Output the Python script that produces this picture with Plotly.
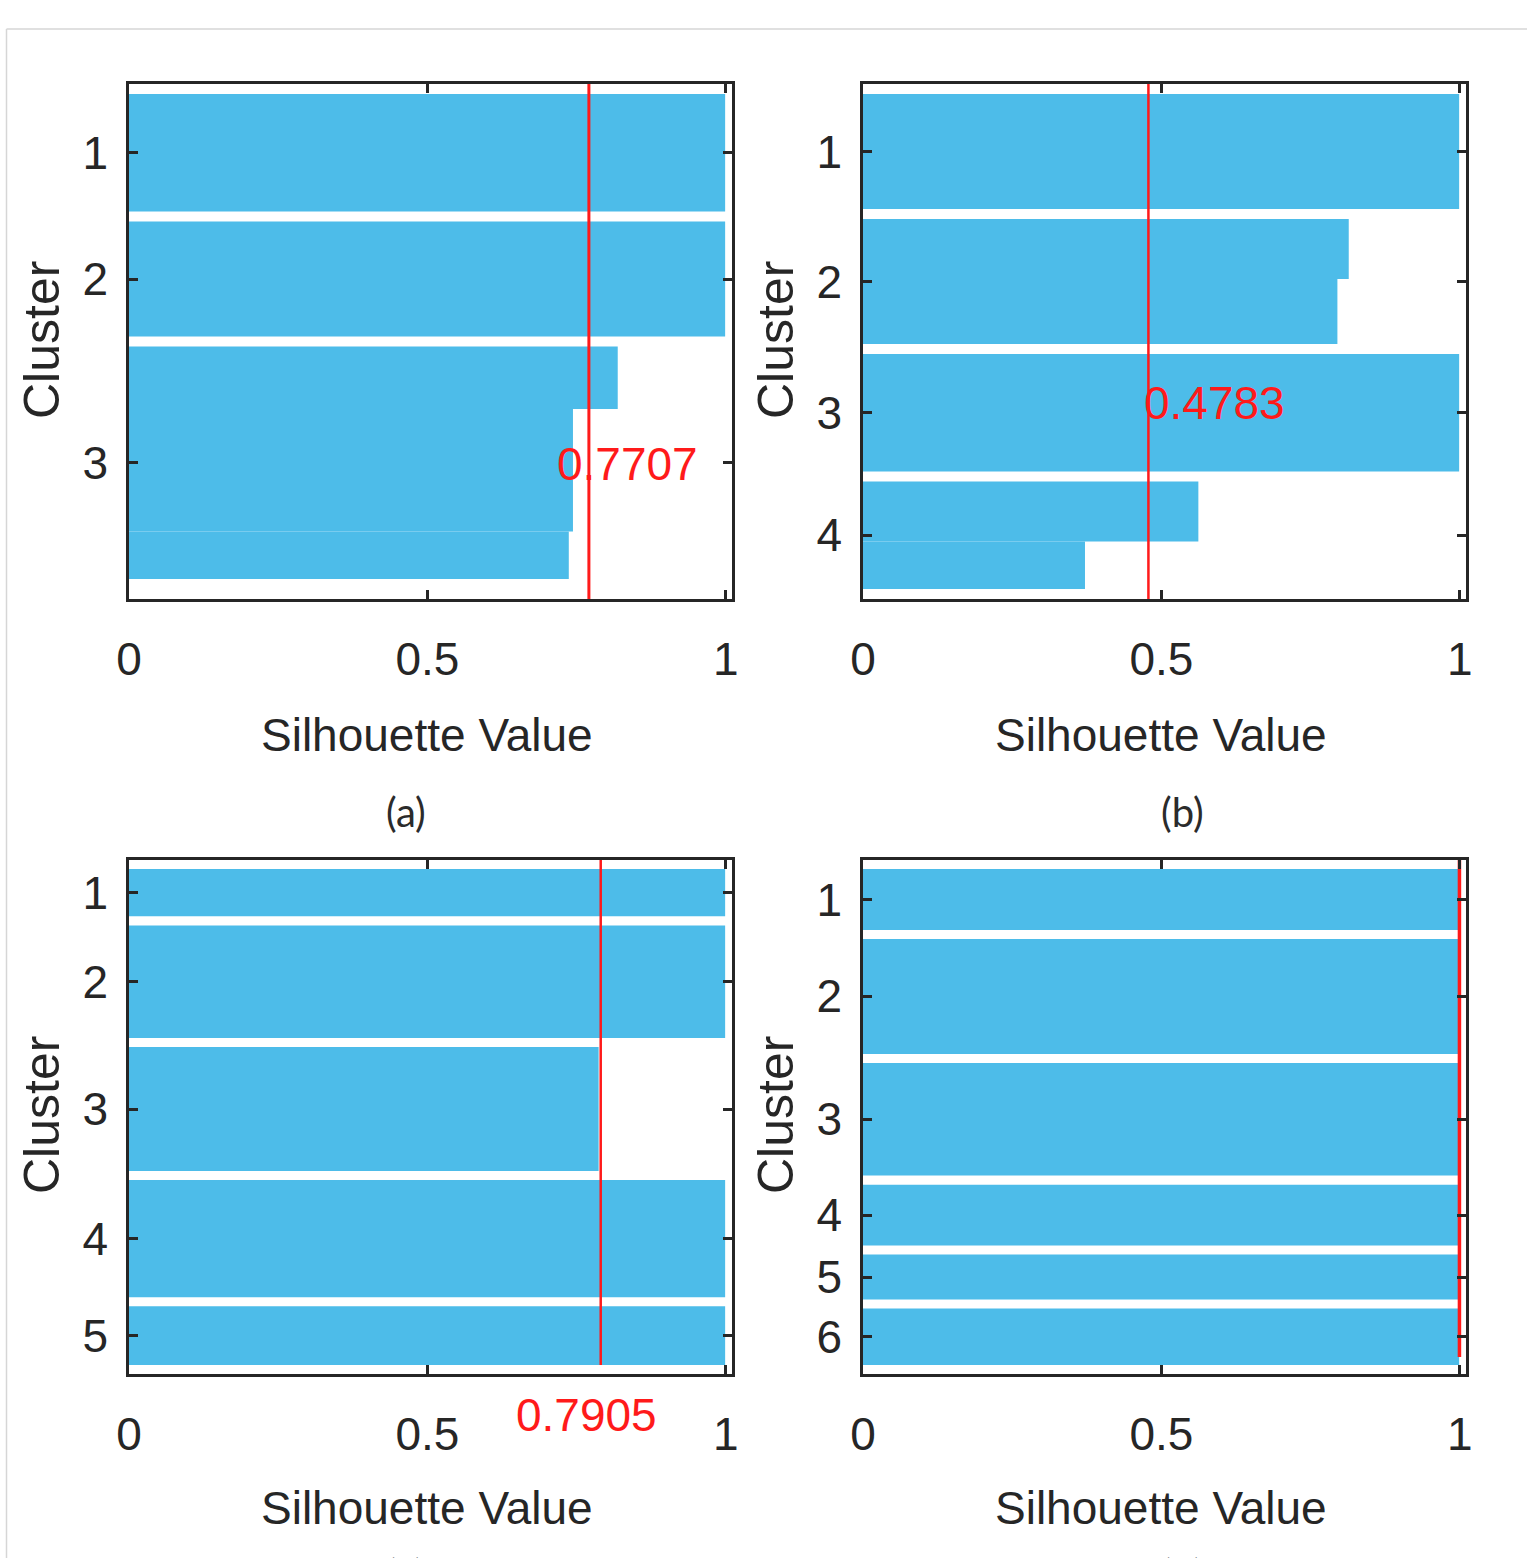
import plotly.graph_objects as go

W, H = 1527, 1558

# ---------------- data ----------------
# each segment = run of samples (count) in a cluster sharing a silhouette value
a_clusters = [1, 2, 3, 3, 3]
a_counts = [47, 46, 25, 49, 19]
a_values = [0.999, 0.999, 0.819, 0.744, 0.737]
a_mean = 0.7707
a_ticktext = ["1", "2", "3"]

b_clusters = [1, 2, 2, 3, 4, 4]
b_counts = [46, 24, 26, 47, 24, 19]
b_values = [0.999, 0.814, 0.795, 0.999, 0.562, 0.372]
b_mean = 0.4783
b_ticktext = ["1", "2", "3", "4"]

c_clusters = [1, 2, 3, 4, 5]
c_counts = [21, 50, 55, 52, 26]
c_values = [0.999, 0.999, 0.787, 0.999, 0.999]
c_mean = 0.7905
c_ticktext = ["1", "2", "3", "4", "5"]

d_clusters = [1, 2, 3, 4, 5, 6]
d_counts = [27, 51, 50, 27, 20, 25]
d_values = [0.999, 0.999, 0.999, 0.999, 0.999, 0.999]
d_mean = 0.9995
d_ticktext = ["1", "2", "3", "4", "5", "6"]

x_tickvals = [0, 0.5, 1]
x_ticktext = ["0", "0.5", "1"]
mean_labels = ["0.7707", "0.4783", "0.7905", None]
panel_letters = ["(a)", "(b)", "(c)", "(d)"]

# ---------------- style ----------------
BAR = "rgb(77,188,233)"
AX = "#262626"
RED = "#ff1a1a"
FONT = "Arial, Liberation Sans, sans-serif"

def px(x):
    return x / W

def py(y):
    return 1 - y / H

panels = [
    dict(cl=a_clusters, n=a_counts, v=a_values, m=a_mean, tt=a_ticktext,
         top=4, gap=4, bottom=8, line_cut=None, line_short=0, lw=3,
         box=(129, 84, 732, 599)),
    dict(cl=b_clusters, n=b_counts, v=b_values, m=b_mean, tt=b_ticktext,
         top=4, gap=4, bottom=4, line_cut=None, line_short=0, lw=2.5,
         box=(863, 84, 1466, 599)),
    dict(cl=c_clusters, n=c_counts, v=c_values, m=c_mean, tt=c_ticktext,
         top=4, gap=4, bottom=4, line_cut="bars", line_short=0, lw=2.5,
         box=(129, 860, 732, 1374)),
    dict(cl=d_clusters, n=d_counts, v=d_values, m=d_mean, tt=d_ticktext,
         top=4, gap=4, bottom=4, line_cut="bars", line_short=3.5, lw=3.5,
         box=(863, 860, 1466, 1374)),
]

fig = go.Figure()
XMAX = 1.0105

for i, p in enumerate(panels):
    k = i + 1
    xa = "x" if k == 1 else f"x{k}"
    ya = "y" if k == 1 else f"y{k}"
    pos = p["top"]
    centers = []
    prev = None
    cl_start = {}
    cl_end = {}
    for c, n in zip(p["cl"], p["n"]):
        if prev is not None and c != prev:
            pos += p["gap"]
        if c not in cl_start:
            cl_start[c] = pos
        centers.append(pos + n / 2)
        pos += n
        cl_end[c] = pos
        prev = c
    bars_end = pos
    total = pos + p["bottom"]
    tickvals = [(cl_start[c] + cl_end[c]) / 2 for c in sorted(cl_start)]

    fig.add_trace(go.Bar(
        x=p["v"], y=centers, width=p["n"], base=0, orientation="h",
        marker=dict(color=BAR, line=dict(width=0)),
        xaxis=xa, yaxis=ya, showlegend=False, hoverinfo="skip"))

    y_end = total if p["line_cut"] is None else bars_end - p["line_short"]
    fig.add_trace(go.Scatter(
        x=[p["m"], p["m"]], y=[0, y_end], mode="lines",
        line=dict(color=RED, width=p["lw"]),
        xaxis=xa, yaxis=ya, showlegend=False, hoverinfo="skip"))

    x0, y0, x1, y1 = p["box"]
    axis_common = dict(showline=True, linewidth=2.5, linecolor=AX, mirror="ticks",
                       ticks="inside", ticklen=9, tickwidth=2.5, tickcolor=AX,
                       showgrid=False, zeroline=False, automargin=False,
                       tickfont=dict(family=FONT, size=46, color=AX))
    fig.layout[f"xaxis{k if k > 1 else ''}"] = dict(
        domain=[px(x0), px(x1)], range=[0, XMAX], anchor=ya,
        tickvals=x_tickvals, ticktext=x_ticktext, ticklabelstandoff=18,
        **axis_common)
    fig.layout[f"yaxis{k if k > 1 else ''}"] = dict(
        domain=[py(y1), py(y0)], range=[total, 0], anchor=xa,
        tickvals=tickvals, ticktext=p["tt"], ticklabelstandoff=9,
        **axis_common)

annotations = []
# axis titles
title_pos = [(42, 340, 427, 735), (776, 340, 1161, 735),
             (42, 1115, 427, 1508), (776, 1115, 1161, 1508)]
for (cx, cy, sx, sy) in title_pos:
    annotations.append(dict(text="Cluster", x=px(cx), y=py(cy), xref="paper", yref="paper",
                            showarrow=False, textangle=-90, xanchor="center", yanchor="middle",
                            font=dict(family=FONT, size=50, color=AX)))
    annotations.append(dict(text="Silhouette Value", x=px(sx), y=py(sy), xref="paper", yref="paper",
                            showarrow=False, xanchor="center", yanchor="middle",
                            font=dict(family=FONT, size=46, color=AX)))
# mean labels
label_pos = [(627, 464), (1214, 403), (586, 1415), None]
for lab, pos in zip(mean_labels, label_pos):
    if lab is None:
        continue
    annotations.append(dict(text=lab, x=px(pos[0]), y=py(pos[1]), xref="paper", yref="paper",
                            showarrow=False, xanchor="center", yanchor="middle",
                            font=dict(family=FONT, size=46, color=RED)))
# panel letters (bottom row letters are cut by the picture edge, as in the original)
letter_pos = [(406, 812), (1182, 812), (406, 1574), (1182, 1574)]
for lab, pos in zip(panel_letters, letter_pos):
    annotations.append(dict(text=lab, x=px(pos[0]), y=py(pos[1]), xref="paper", yref="paper",
                            showarrow=False, xanchor="center", yanchor="middle",
                            font=dict(family="Lato, Open Sans, sans-serif", size=40, color="#2b2b2b")))

shapes = [
    dict(type="line", xref="paper", yref="paper", x0=px(6.5), x1=1, y0=py(29), y1=py(29),
         line=dict(color="#d6d6d6", width=1.5)),
    dict(type="line", xref="paper", yref="paper", x0=px(6.5), x1=px(6.5), y0=py(29), y1=0,
         line=dict(color="#d6d6d6", width=1.5)),
]

fig.update_layout(width=W, height=H,
                  margin=dict(l=0, r=0, t=0, b=0, pad=0, autoexpand=False),
                  paper_bgcolor="white", plot_bgcolor="white",
                  annotations=annotations, shapes=shapes, barmode="overlay")

fig.write_html("out.html", config={"displayModeBar": False},
               post_script="document.body.style.margin='0';document.body.style.overflow='hidden';")
